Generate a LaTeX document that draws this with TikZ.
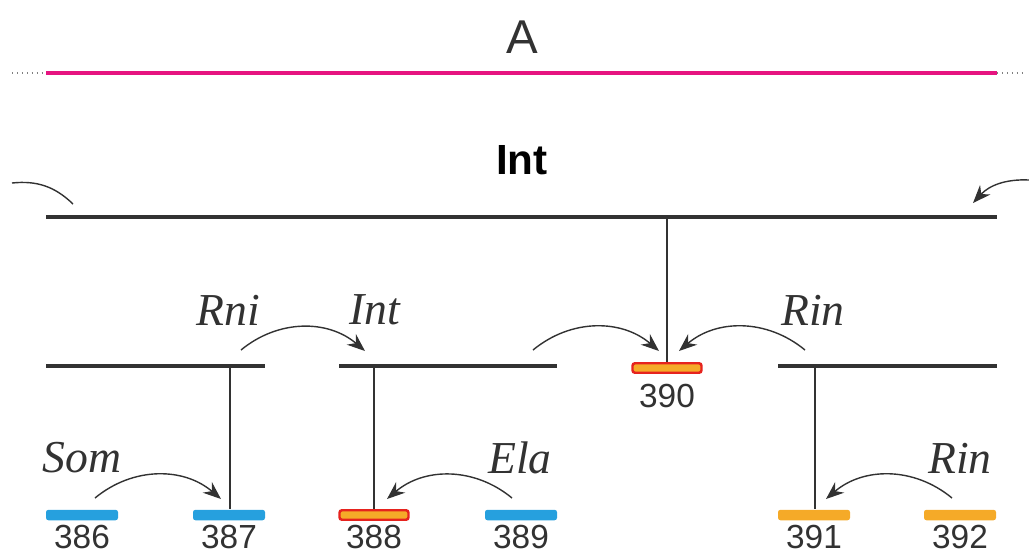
\documentclass[tikz,border=0pt]{standalone}
\usepackage{fontspec}
\setmainfont{Liberation Serif}
\setsansfont{Liberation Sans}
\usepackage{xcolor}
\usepackage{tikz}
\usetikzlibrary{arrows.meta}

\definecolor{rosa}{RGB}{230,20,128}
\definecolor{blau}{RGB}{38,160,222}
\definecolor{gelb}{RGB}{245,170,40}
\definecolor{rot}{RGB}{230,35,30}
\definecolor{grau}{RGB}{50,50,50}

\begin{document}
\begin{tikzpicture}[
chrom/.style={line width=2.2pt, grau},
stem/.style={line width=0.8pt, grau},
arrow/.style={-{Stealth[length=3.6mm,width=2.8mm]}, line width=0.8pt, grau},
bar/.style={rectangle, rounded corners=1.4pt, minimum width=1.44cm, minimum height=0.21cm, inner sep=0pt},
bluebar/.style={bar, fill=blau},
orangebar/.style={bar, fill=gelb},
hotbar/.style={bar, fill=gelb, draw=rot, line width=1.4pt, minimum width=1.38cm, minimum height=0.19cm},
num/.style={font=\sffamily\fontsize{19}{19}\selectfont, text=grau, inner sep=1pt},
gene/.style={font=\itshape\fontsize{26}{26}\selectfont, text=grau}
]
\useasboundingbox (0,0) rectangle (20.58,-11.1);

% title
\node[font=\sffamily\fontsize{27}{27}\selectfont, text=grau] (title) at (10.44,-0.74) {A};
\draw[rosa, line width=2.2pt] (0.92,-1.46) -- (19.94,-1.46);
\draw[gray, dotted, line width=0.8pt] (0.24,-1.46) -- (0.92,-1.46);
\draw[gray, dotted, line width=0.8pt] (19.94,-1.46) -- (20.46,-1.46);

% top level
\node[font=\sffamily\bfseries\fontsize{24}{24}\selectfont, text=black] (int) at (10.44,-3.2) {Int};
\coordinate (topL) at (0.92,-4.34);
\coordinate (topR) at (19.94,-4.34);
\draw[chrom] (topL) -- (topR);
\coordinate (inL) at (0.24,-3.66);
\coordinate (inLe) at (1.46,-4.08);
\draw[stem] (inL) to[bend left=25] (inLe);
\coordinate (inR) at (20.58,-3.6);
\coordinate (inRe) at (19.46,-4.06);
\draw[arrow] (inR) to[bend right=25] (inRe);

% middle level
\coordinate (m1L) at (0.92,-7.32);
\coordinate (m1R) at (5.3,-7.32);
\coordinate (m2L) at (6.78,-7.32);
\coordinate (m2R) at (11.14,-7.32);
\coordinate (m3L) at (15.56,-7.32);
\coordinate (m3R) at (19.94,-7.32);
\draw[chrom] (m1L) -- (m1R);
\draw[chrom] (m2L) -- (m2R);
\draw[chrom] (m3L) -- (m3R);

\node[hotbar] (b390) at (13.34,-7.36) {};
\node[num] (n390) at (13.34,-7.92) {390};
\draw[stem] (13.34,-4.34) -- (b390.north);

\node[gene] (rni) at (4.56,-6.2) {Rni};
\node[gene] (intm) at (7.5,-6.2) {Int};
\node[gene] (rinm) at (16.26,-6.2) {Rin};

\coordinate (a1s) at (4.82,-7.0);
\coordinate (a1e) at (7.3,-7.02);
\draw[arrow] (a1s) to[bend left=40] (a1e);
\coordinate (a2s) at (10.66,-7.0);
\coordinate (a2e) at (13.18,-7.02);
\draw[arrow] (a2s) to[bend left=40] (a2e);
\coordinate (a3s) at (16.1,-7.0);
\coordinate (a3e) at (13.58,-7.02);
\draw[arrow] (a3s) to[bend right=40] (a3e);

% bottom level
\node[bluebar] (b386) at (1.64,-10.3) {};
\node[bluebar] (b387) at (4.58,-10.3) {};
\node[hotbar] (b388) at (7.48,-10.3) {};
\node[bluebar] (b389) at (10.42,-10.3) {};
\node[orangebar] (b391) at (16.28,-10.3) {};
\node[orangebar] (b392) at (19.2,-10.3) {};

\node[num] (n386) at (1.64,-10.74) {386};
\node[num] (n387) at (4.58,-10.74) {387};
\node[num] (n388) at (7.48,-10.74) {388};
\node[num] (n389) at (10.42,-10.74) {389};
\node[num] (n391) at (16.28,-10.74) {391};
\node[num] (n392) at (19.2,-10.74) {392};

\draw[stem] (4.6,-7.32) -- (b387.north -| 4.6,0);
\draw[stem] (7.48,-7.32) -- (b388.north);
\draw[stem] (16.3,-7.32) -- (b391.north -| 16.3,0);

\node[gene] (som) at (1.64,-9.16) {Som};
\node[gene] (ela) at (10.4,-9.16) {Ela};
\node[gene] (rinb) at (19.2,-9.16) {Rin};

\coordinate (a4s) at (1.9,-9.96);
\coordinate (a4e) at (4.42,-9.98);
\draw[arrow] (a4s) to[bend left=40] (a4e);
\coordinate (a5s) at (10.24,-9.96);
\coordinate (a5e) at (7.74,-9.98);
\draw[arrow] (a5s) to[bend right=40] (a5e);
\coordinate (a6s) at (19.04,-9.96);
\coordinate (a6e) at (16.52,-9.98);
\draw[arrow] (a6s) to[bend right=40] (a6e);

\end{tikzpicture}
\end{document}
